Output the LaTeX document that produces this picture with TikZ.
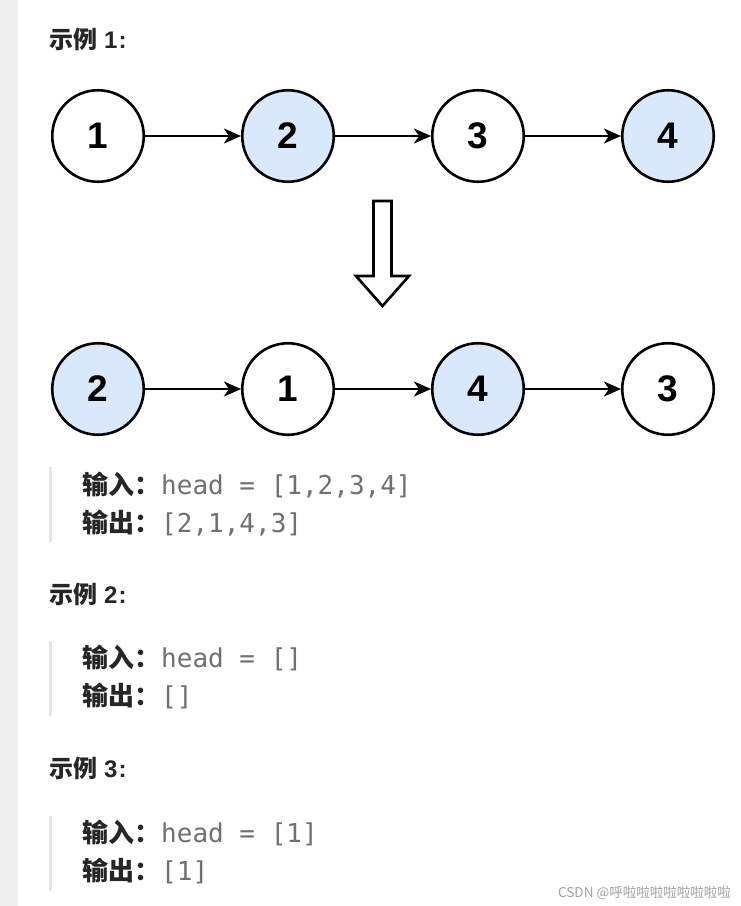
\documentclass[tikz,border=0pt]{standalone}
\usepackage{fontspec}
\usetikzlibrary{arrows.meta}
\newfontfamily\cjk{Noto Sans CJK SC}
\newfontfamily\numf{Liberation Sans}
\newfontfamily\monof{DejaVu Sans Mono}
\definecolor{nodeblue}{HTML}{DAE8FC}
\definecolor{stripgray}{HTML}{F0F0F0}
\definecolor{bargray}{HTML}{E6E6E6}
\definecolor{codegray}{HTML}{707070}
\definecolor{headblack}{HTML}{262626}
\definecolor{markgray}{HTML}{A0A0A0}
\newcommand{\hnum}[1]{\hspace{7pt}{\numf\bfseries\fontsize{24}{28}\selectfont #1\hspace{1pt}:}}
\tikzset{
  listnode/.style={circle, draw=black, line width=2.6pt, minimum size=91.5pt, inner sep=0pt,
    font=\numf\bfseries\fontsize{37}{40}\selectfont, fill=white},
  bluenode/.style={listnode, fill=nodeblue},
  linkarrow/.style={line width=2.4pt, -{Stealth[length=17pt,width=15pt,inset=5pt]}},
  heading/.style={anchor=base west, inner sep=0pt, text=headblack,
    font=\cjk\bfseries\fontsize{24}{28}\selectfont},
  codelabel/.style={anchor=base west, inner sep=0pt, text=headblack,
    font=\cjk\bfseries\fontsize{26}{30}\selectfont},
  codetext/.style={anchor=base west, inner sep=0pt, text=codegray,
    font=\monof\fontsize{26}{30}\selectfont},
  codebar/.style={fill=bargray, draw=none},
  hollowarrow/.style={draw=black, line width=2.6pt, fill=white, line join=miter}
}
\begin{document}
\begin{tikzpicture}[x=1pt,y=-1pt]
\useasboundingbox (0,0) rectangle (741,906);
\fill[white] (0,0) rectangle (741,906);
\fill[stripgray] (0,0) rectangle (18,906);

% Example 1 heading
\node[heading] (h1) at (49,48) {示例\hnum{1}};

% Row 1
\node[listnode] (a1) at (98,136) {1};
\node[bluenode] (a2) at (288,136) {2};
\node[listnode] (a3) at (478,136) {3};
\node[bluenode] (a4) at (668,136) {4};
\draw[linkarrow] (a1) -- (a2);
\draw[linkarrow] (a2) -- (a3);
\draw[linkarrow] (a3) -- (a4);

% Hollow down arrow
\draw[hollowarrow] (373.5,201) -- (391.5,201) -- (391.5,276) -- (409,276) -- (382.5,306)
  -- (356,276) -- (373.5,276) -- cycle;

% Row 2
\node[bluenode] (b1) at (98,389) {2};
\node[listnode] (b2) at (288,389) {1};
\node[bluenode] (b3) at (478,389) {4};
\node[listnode] (b4) at (668,389) {3};
\draw[linkarrow] (b1) -- (b2);
\draw[linkarrow] (b2) -- (b3);
\draw[linkarrow] (b3) -- (b4);

% Block 1
\fill[codebar] (49,467) rectangle (52,542);
\node[codelabel] (in1l) at (82,494) {输入：};
\node[codetext] (in1t) at (161,494) {head = [1,2,3,4]};
\node[codelabel] (out1l) at (82,532) {输出：};
\node[codetext] (out1t) at (161,532) {[2,1,4,3]};

% Example 2
\node[heading] (h2) at (49,603) {示例\hnum{2}};
\fill[codebar] (49,641) rectangle (52,716);
\node[codelabel] (in2l) at (82,667) {输入：};
\node[codetext] (in2t) at (161,667) {head = []};
\node[codelabel] (out2l) at (82,705) {输出：};
\node[codetext] (out2t) at (161,705) {[]};

% Example 3
\node[heading] (h3) at (49,777) {示例\hnum{3}};
\fill[codebar] (49,816) rectangle (52,891);
\node[codelabel] (in3l) at (82,842) {输入：};
\node[codetext] (in3t) at (161,842) {head = [1]};
\node[codelabel] (out3l) at (82,880) {输出：};
\node[codetext] (out3t) at (161,880) {[1]};

% Watermark
\node[anchor=base east, inner sep=0pt, text=markgray, font=\cjk\fontsize{13.5}{15}\selectfont]
  (wm) at (731,897) {CSDN @呼啦啦啦啦啦啦啦啦};
\end{tikzpicture}
\end{document}
